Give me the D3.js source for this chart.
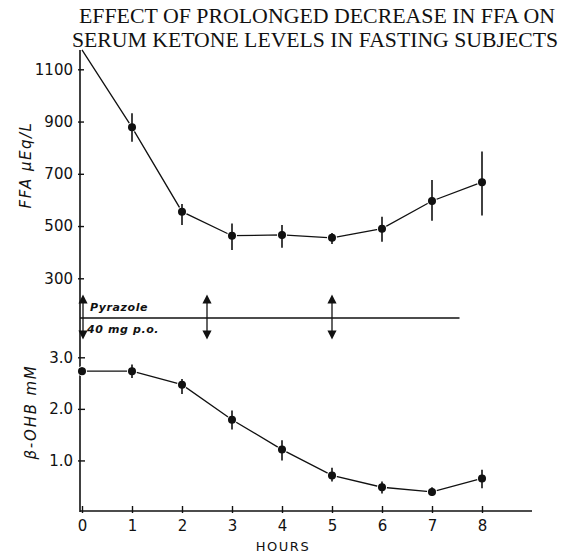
<!DOCTYPE html>
<html>
<head>
<meta charset="utf-8">
<script src="https://cdn.jsdelivr.net/npm/d3@7"></script>
<style>
  body { margin: 0; background: #fff; }
  svg { display: block; }
  .tick-label { font-family: "DejaVu Sans", sans-serif; font-size: 15px; fill: #111; }
</style>
</head>
<body>
<div id="viz"></div>
<script>
var width = 566,
    height = 556;

// data
var hours = [0, 1, 2, 3, 4, 5, 6, 7, 8];
var ffa = [1174, 878, 555, 463, 466, 455, 490, 596, 668];
var ffaLow = [null, 823, 504, 408, 417, 431, 440, 520, 540];
var ffaHigh = [null, 932, 584, 510, 504, 473, 536, 676, 785];
var ketone = [2.73, 2.73, 2.47, 1.79, 1.21, 0.71, 0.48, 0.39, 0.65];
var ketoneLow = [2.66, 2.60, 2.29, 1.60, 1.00, 0.59, 0.36, 0.31, 0.46];
var ketoneHigh = [2.80, 2.86, 2.58, 1.97, 1.39, 0.86, 0.59, 0.48, 0.82];
var ffaTicks = [300, 500, 700, 900, 1100];
var ketoneTicks = [1, 2, 3];
var hourTicks = [0, 1, 2, 3, 4, 5, 6, 7, 8];
var doses = [0, 2.5, 5];
var doseLineEnd = 7.55;

var x = d3.scaleLinear().domain([0, 9]).range([82, 532]);
var yF = d3.scaleLinear().domain([300, 1100]).range([278.3, 69.3]);
var yK = d3.scaleLinear().domain([0, 3]).range([512, 357.3]);

var svg = d3.select('#viz').append('svg')
    .attr('width', width)
    .attr('height', height);

// title
var title = svg.append('text')
    .attr('font-family', '"Liberation Serif", "Times New Roman", serif')
    .attr('font-size', 21)
    .attr('fill', '#111');
title.append('tspan').attr('x', 79).attr('y', 23)
    .attr('textLength', 476).attr('lengthAdjust', 'spacingAndGlyphs')
    .text('EFFECT OF PROLONGED DECREASE IN FFA ON');
title.append('tspan').attr('x', 72).attr('y', 47)
    .attr('textLength', 486).attr('lengthAdjust', 'spacingAndGlyphs')
    .text('SERUM KETONE LEVELS IN FASTING SUBJECTS');

// left axis line (runs the full height)
svg.append('line')
    .attr('x1', 80).attr('x2', 80)
    .attr('y1', 50).attr('y2', 512)
    .attr('stroke', '#111').attr('stroke-width', 1.6);

// FFA axis
svg.append('g')
    .attr('transform', 'translate(80,0)')
    .call(d3.axisLeft(yF).tickValues(ffaTicks).tickFormat(d3.format('d')).tickSize(4).tickPadding(3))
    .call(g => g.select('.domain').remove())
    .call(g => g.selectAll('.tick line').attr('x2', 4).attr('x1', -2).attr('stroke', '#111').attr('stroke-width', 1.4))
    .call(g => g.selectAll('.tick text').attr('class', 'tick-label').attr('font-family', null).attr('font-size', null));

// ketone axis
svg.append('g')
    .attr('transform', 'translate(80,0)')
    .call(d3.axisLeft(yK).tickValues(ketoneTicks).tickFormat(d3.format('.1f')).tickSize(4).tickPadding(3))
    .call(g => g.select('.domain').remove())
    .call(g => g.selectAll('.tick line').attr('x2', 5).attr('x1', -2).attr('stroke', '#111').attr('stroke-width', 1.4))
    .call(g => g.selectAll('.tick text').attr('class', 'tick-label').attr('font-family', null).attr('font-size', null));

// hours axis
svg.append('g')
    .attr('transform', 'translate(0,511)')
    .call(d3.axisBottom(x).tickValues(hourTicks).tickSize(0).tickPadding(6).tickSizeOuter(0))
    .call(g => g.select('.domain').attr('d', 'M80,0H532').attr('stroke', '#111').attr('stroke-width', 1.6))
    .call(g => g.selectAll('.tick line').attr('y1', -5).attr('y2', 2).attr('stroke', '#111').attr('stroke-width', 1.4))
    .call(g => g.selectAll('.tick text').attr('class', 'tick-label').attr('font-family', null).attr('font-size', null).attr('dy', '0.9em'));

// axis titles
svg.append('text')
    .attr('transform', 'translate(31,165) rotate(-90)')
    .attr('text-anchor', 'middle')
    .attr('font-family', '"DejaVu Sans", sans-serif')
    .attr('font-style', 'italic')
    .attr('font-size', 15)
    .attr('letter-spacing', 1.5)
    .attr('fill', '#111')
    .text('FFA  \u03BCEq/L');

svg.append('text')
    .attr('transform', 'translate(36,412) rotate(-90)')
    .attr('text-anchor', 'middle')
    .attr('font-family', '"DejaVu Sans", sans-serif')
    .attr('font-style', 'italic')
    .attr('font-size', 15)
    .attr('letter-spacing', 1.8)
    .attr('fill', '#111')
    .text('\u03B2-OHB  mM');

svg.append('text')
    .attr('x', 283).attr('y', 551)
    .attr('text-anchor', 'middle')
    .attr('font-family', '"DejaVu Sans", sans-serif')
    .attr('font-size', 13)
    .attr('letter-spacing', 1.5)
    .attr('fill', '#111')
    .text('HOURS');

// pyrazole dosing line and arrows
var doseY = 318;
svg.append('line')
    .attr('x1', 80).attr('x2', x(doseLineEnd))
    .attr('y1', doseY).attr('y2', doseY)
    .attr('stroke', '#111').attr('stroke-width', 1.3);

svg.append('defs').append('marker')
    .attr('id', 'head')
    .attr('viewBox', '0 0 10 10')
    .attr('refX', 5).attr('refY', 5)
    .attr('markerWidth', 7).attr('markerHeight', 7)
    .attr('orient', 'auto')
    .append('path')
    .attr('d', 'M0,0L10,5L0,10z')
    .attr('fill', '#111');

var arrows = svg.append('g');
doses.forEach(function(d) {
  var ax = d === 0 ? x(d) + 1 : x(d);
  arrows.append('line')
      .attr('x1', ax).attr('x2', ax)
      .attr('y1', doseY).attr('y2', 299)
      .attr('stroke', '#111').attr('stroke-width', 1.3)
      .attr('marker-end', 'url(#head)');
  arrows.append('line')
      .attr('x1', ax).attr('x2', ax)
      .attr('y1', doseY).attr('y2', 335)
      .attr('stroke', '#111').attr('stroke-width', 1.3)
      .attr('marker-end', 'url(#head)');
});

var doseText = svg.append('g')
    .attr('font-family', '"DejaVu Sans", sans-serif')
    .attr('font-style', 'italic')
    .attr('font-weight', 'bold')
    .attr('font-size', 11)
    .attr('letter-spacing', 0.6)
    .attr('fill', '#111');
doseText.append('text').attr('x', 90).attr('y', 311).text('Pyrazole');
doseText.append('text').attr('x', 87).attr('y', 333).text('40 mg p.o.');

// series drawing
function drawSeries(vals, low, high, y, skipFirstDot) {
  var g = svg.append('g');
  var pts = hours.map((h, i) => ({h: h, v: vals[i], lo: low[i], hi: high[i], i: i}));

  g.append('path')
      .datum(pts)
      .attr('fill', 'none')
      .attr('stroke', '#111')
      .attr('stroke-width', 1.3)
      .attr('d', d3.line().x(d => x(d.h)).y(d => y(d.v)));

  var shown = pts.filter(d => !(skipFirstDot && d.i === 0));

  g.selectAll('circle')
      .data(shown)
      .join('circle')
      .attr('cx', d => x(d.h))
      .attr('cy', d => y(d.v))
      .attr('r', 4.2)
      .attr('fill', '#111')
      .attr('stroke', '#fff')
      .attr('stroke-width', 1.6);

  g.selectAll('.err')
      .data(shown.filter(d => d.lo != null))
      .join('line')
      .attr('class', 'err')
      .attr('x1', d => x(d.h)).attr('x2', d => x(d.h))
      .attr('y1', d => y(d.lo)).attr('y2', d => y(d.hi))
      .attr('stroke', '#111')
      .attr('stroke-width', 1.6);

  g.selectAll('.dot2')
      .data(shown)
      .join('circle')
      .attr('class', 'dot2')
      .attr('cx', d => x(d.h))
      .attr('cy', d => y(d.v))
      .attr('r', 4)
      .attr('fill', '#111');
}

drawSeries(ffa, ffaLow, ffaHigh, yF, true);
drawSeries(ketone, ketoneLow, ketoneHigh, yK, false);
</script>
</body>
</html>
